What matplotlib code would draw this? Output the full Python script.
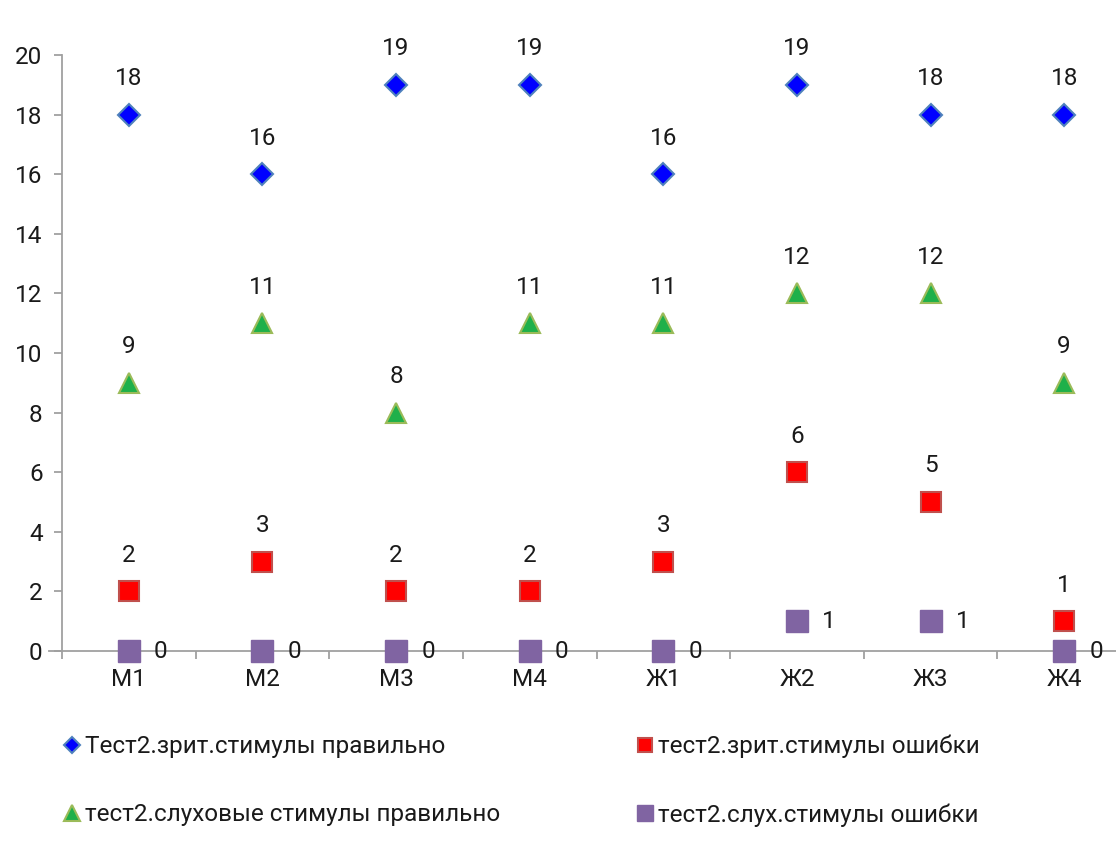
import matplotlib
matplotlib.use("Agg")
import matplotlib.pyplot as plt

plt.rcParams['font.family'] = ['Roboto', 'DejaVu Sans']

categories = ["М1", "М2", "М3", "М4", "Ж1", "Ж2", "Ж3", "Ж4"]
vis_correct = [18, 16, 19, 19, 16, 19, 18, 18]
vis_errors = [2, 3, 2, 2, 3, 6, 5, 1]
aud_correct = [9, 11, 8, 11, 11, 12, 12, 9]
aud_errors = [0, 0, 0, 0, 0, 1, 1, 0]
labels = ["Тест2.зрит.стимулы правильно", "тест2.зрит.стимулы ошибки",
          "тест2.слуховые стимулы правильно", "тест2.слух.стимулы ошибки"]
yticks = [0, 2, 4, 6, 8, 10, 12, 14, 16, 18, 20]

W, H = 1116, 848
fig = plt.figure(figsize=(W / 100, H / 100), dpi=100)
left, right, top, bottom = 62, 1131, 55, 651
ax = fig.add_axes([left / W, 1 - bottom / H, (right - left) / W, (bottom - top) / H])
ax.set_xlim(-0.5, 7.5)
ax.set_ylim(0, 20)
x = list(range(len(categories)))

axis_col = '#a0a0a0'
txt_col = '#1a1a1a'
fs = 17.5

hb = ax.plot(x, vis_correct, linestyle='none', marker='D', markersize=11,
             markerfacecolor='#0000ff', markeredgecolor='#4f81bd', markeredgewidth=1.5,
             clip_on=False, zorder=5)[0]
hr = ax.plot(x, vis_errors, linestyle='none', marker='s', markersize=14,
             markerfacecolor='#ff0000', markeredgecolor='#c0504d', markeredgewidth=1.5,
             clip_on=False, zorder=5)[0]
hg = ax.plot(x, aud_correct, linestyle='none', marker='^', markersize=15,
             markerfacecolor='#1fb04a', markeredgecolor='#9bbb59', markeredgewidth=1.5,
             clip_on=False, zorder=5)[0]
hp = ax.plot(x, aud_errors, linestyle='none', marker='s', markersize=16,
             markerfacecolor='#8064a2', markeredgecolor='#8064a2', markeredgewidth=1,
             clip_on=False, zorder=5)[0]

for series in (vis_correct, vis_errors, aud_correct):
    for xi, v in zip(x, series):
        ax.annotate(str(v), (xi, v), xytext=(0, 26), textcoords='offset points',
                    ha='center', va='center', fontsize=fs, color=txt_col)
for xi, v in zip(x, aud_errors):
    ax.annotate(str(v), (xi, v), xytext=(23, 0), textcoords='offset points',
                ha='center', va='center', fontsize=fs, color=txt_col)

for s in ['top', 'right']:
    ax.spines[s].set_visible(False)
for s in ['left', 'bottom']:
    ax.spines[s].set_color(axis_col)
    ax.spines[s].set_linewidth(1.3)
ax.spines['bottom'].set_bounds(-0.6, 7.5)

ax.set_yticks(yticks)
ax.set_yticklabels([str(t) for t in yticks], fontsize=fs, color=txt_col)
ax.tick_params(axis='y', direction='out', length=6, color=axis_col, width=1.3, pad=8)
ax.set_xticks([i + 0.5 for i in range(-1, 8)], minor=False)
ax.set_xticklabels([''] * 9)
ax.tick_params(axis='x', direction='out', length=6, color=axis_col, width=1.3)
ax.set_xticks(x, minor=True)
ax.set_xticklabels(categories, minor=True, fontsize=fs, color=txt_col)
ax.tick_params(axis='x', which='minor', length=0, pad=12)

leg = fig.legend([hb, hg, hr, hp], [labels[0], labels[2], labels[1], labels[3]],
                 ncol=2, loc='upper left', bbox_to_anchor=(44 / W, 1 - 713 / H),
                 frameon=False, fontsize=fs, handlelength=0.5, handletextpad=0.3,
                 labelspacing=1.85, columnspacing=5.68, markerscale=0.75)
for t in leg.get_texts():
    t.set_color(txt_col)

fig.savefig('out.png', dpi=100)
